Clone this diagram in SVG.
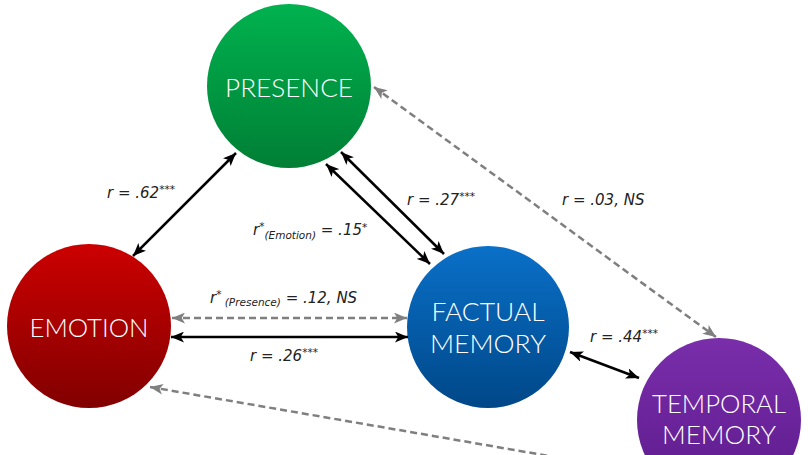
<svg xmlns="http://www.w3.org/2000/svg" width="808" height="455" viewBox="0 0 808 455">
<defs>
<linearGradient id="gGreen" x1="0" y1="0" x2="0" y2="1"><stop offset="0" stop-color="#00b24f"/><stop offset="1" stop-color="#007f35"/></linearGradient>
<linearGradient id="gRed" x1="0" y1="0" x2="0" y2="1"><stop offset="0" stop-color="#cc0000"/><stop offset="1" stop-color="#820000"/></linearGradient>
<linearGradient id="gBlue" x1="0" y1="0" x2="0" y2="1"><stop offset="0" stop-color="#0a70c8"/><stop offset="1" stop-color="#004788"/></linearGradient>
<linearGradient id="gPurple" x1="0" y1="0" x2="0" y2="1"><stop offset="0" stop-color="#7a2eaa"/><stop offset="1" stop-color="#5c1a8c"/></linearGradient>
<marker id="ab" viewBox="0 0 12 10" refX="12" refY="5" markerWidth="13" markerHeight="11" markerUnits="userSpaceOnUse" orient="auto-start-reverse"><path d="M0,0 L12,5 L0,10 L3,5 z" fill="#000"/></marker>
<marker id="ag" viewBox="0 0 12 10" refX="12" refY="5" markerWidth="13" markerHeight="11" markerUnits="userSpaceOnUse" orient="auto-start-reverse"><path d="M0,0 L12,5 L0,10 L3,5 z" fill="#7f7f7f"/></marker>
</defs>
<style>
.solid{stroke:#000;stroke-width:2.5;fill:none;marker-start:url(#ab);marker-end:url(#ab)}
.dash{stroke:#7f7f7f;stroke-width:2.5;fill:none;stroke-dasharray:7 4;marker-start:url(#ag);marker-end:url(#ag)}
.dash1{stroke:#7f7f7f;stroke-width:2.5;fill:none;stroke-dasharray:7 4;marker-start:url(#ag)}
.ntxt{font-family:"Lato","Liberation Sans",sans-serif;font-size:26px;fill:#fff;text-anchor:middle;font-weight:300}
.lbl{font-family:"DejaVu Sans","Liberation Sans",sans-serif;font-style:italic;font-size:15px;fill:#222}
.sm{font-size:10.5px}
</style>
<rect width="808" height="455" fill="#fff"/>
<g id="presence"><circle cx="289" cy="86" r="82" fill="url(#gGreen)"/><text class="ntxt" x="289" y="97" textLength="128" lengthAdjust="spacingAndGlyphs">PRESENCE</text></g>
<g id="emotion"><circle cx="89" cy="326" r="82" fill="url(#gRed)"/><text class="ntxt" x="89" y="337" textLength="119" lengthAdjust="spacingAndGlyphs">EMOTION</text></g>
<g id="factual"><circle cx="488" cy="327" r="81" fill="url(#gBlue)"/><text class="ntxt" x="488" y="321" textLength="113" lengthAdjust="spacingAndGlyphs">FACTUAL</text><text class="ntxt" x="488" y="353" textLength="116" lengthAdjust="spacingAndGlyphs">MEMORY</text></g>
<g id="temporal"><circle cx="719" cy="420" r="82" fill="url(#gPurple)"/><text class="ntxt" x="719" y="413" textLength="134" lengthAdjust="spacingAndGlyphs">TEMPORAL</text><text class="ntxt" x="719" y="444" textLength="114" lengthAdjust="spacingAndGlyphs">MEMORY</text></g>
<g id="connectors">
<line class="solid" x1="236" y1="153" x2="133" y2="256"/>
<line class="solid" x1="326" y1="164" x2="430" y2="264"/>
<line class="solid" x1="341" y1="152" x2="444" y2="254"/>
<line class="dash" x1="172" y1="318" x2="407" y2="318"/>
<line class="solid" x1="171" y1="337" x2="408" y2="337"/>
<line class="solid" x1="570" y1="352" x2="639" y2="378"/>
<line class="dash" x1="374" y1="87" x2="716" y2="337"/>
<line class="dash1" x1="150" y1="387" x2="578" y2="461"/>
</g>
<g id="labels">
<text class="lbl" x="107" y="198">r = .62<tspan class="sm" dy="-5">***</tspan></text>
<text class="lbl" x="253" y="235">r<tspan class="sm" dy="-5">*</tspan><tspan class="sm" dy="9">(Emotion)</tspan><tspan dy="-4"> = .15</tspan><tspan class="sm" dy="-4">*</tspan></text>
<text class="lbl" x="407" y="205">r = .27<tspan class="sm" dy="-5">***</tspan></text>
<text class="lbl" x="562" y="205">r = .03, NS</text>
<text class="lbl" x="210" y="303">r<tspan class="sm" dy="-5">*</tspan><tspan class="sm" dy="8"> (Presence)</tspan><tspan dy="-3"> = .12, NS</tspan></text>
<text class="lbl" x="250" y="361">r = .26<tspan class="sm" dy="-5">***</tspan></text>
<text class="lbl" x="590" y="342">r = .44<tspan class="sm" dy="-5">***</tspan></text>
</g>
</svg>
